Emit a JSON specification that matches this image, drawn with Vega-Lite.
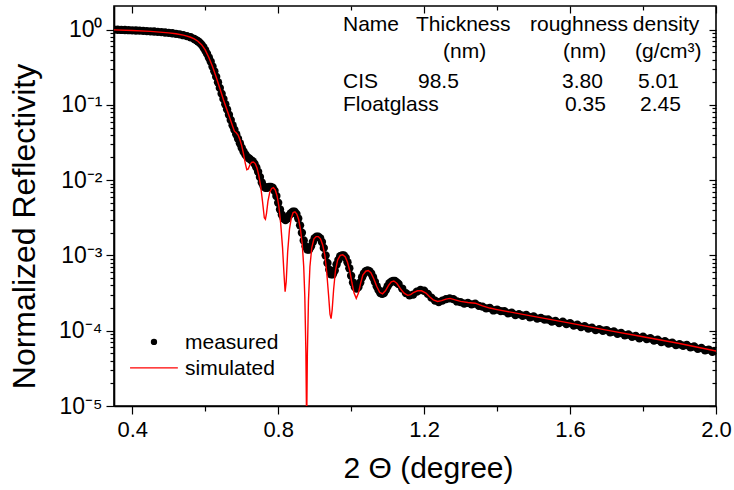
{
"$schema": "https://vega.github.io/schema/vega-lite/v6.json",
"width": 602, "height": 400,
"autosize": {"type": "none"},
"padding": {"left": 114, "top": 6, "right": 18, "bottom": 84},
"background": "white",
"config": {
 "view": {"stroke": "black", "strokeWidth": 1.6},
 "font": "Liberation Sans",
 "axis": {"grid": false, "domainColor": "black", "domainWidth": 1.6, "tickColor": "black", "tickWidth": 1.2, "labelColor": "black", "titleColor": "black", "labelFont": "Liberation Sans", "titleFont": "Liberation Sans", "titleFontWeight": "normal", "labelOverlap": false, "labelFlush": false}
},
"datasets": {
 "measured": [
  {"x":0.35,"y":1.0},{"x":0.36,"y":0.995},{"x":0.37,"y":0.99},{"x":0.38,"y":0.986},{"x":0.39,"y":0.982},{"x":0.40,"y":0.977},{"x":0.41,"y":0.973},{"x":0.42,"y":0.968},{"x":0.43,"y":0.962},{"x":0.44,"y":0.955},{"x":0.45,"y":0.948},{"x":0.46,"y":0.942},{"x":0.47,"y":0.933},{"x":0.48,"y":0.925},{"x":0.49,"y":0.916},{"x":0.50,"y":0.906},{"x":0.51,"y":0.893},{"x":0.52,"y":0.879},{"x":0.53,"y":0.863},{"x":0.54,"y":0.843},{"x":0.55,"y":0.820},{"x":0.56,"y":0.791},{"x":0.57,"y":0.750},{"x":0.575,"y":0.726},{"x":0.58,"y":0.700},{"x":0.585,"y":0.668},{"x":0.59,"y":0.631},{"x":0.595,"y":0.582},{"x":0.60,"y":0.531},{"x":0.605,"y":0.479},{"x":0.61,"y":0.427},{"x":0.615,"y":0.376},{"x":0.62,"y":0.324},{"x":0.625,"y":0.279},{"x":0.63,"y":0.237},{"x":0.635,"y":0.200},{"x":0.64,"y":0.168},{"x":0.645,"y":0.141},{"x":0.65,"y":0.120},{"x":0.655,"y":0.102},{"x":0.66,"y":0.0871},{"x":0.665,"y":0.0741},{"x":0.67,"y":0.0631},{"x":0.675,"y":0.0537},{"x":0.68,"y":0.0468},{"x":0.685,"y":0.0407},{"x":0.69,"y":0.0355},{"x":0.695,"y":0.0309},{"x":0.70,"y":0.0269},{"x":0.705,"y":0.0240},{"x":0.71,"y":0.0219},{"x":0.715,"y":0.0204},{"x":0.72,"y":0.0195},{"x":0.725,"y":0.0186},{"x":0.73,"y":0.0178},{"x":0.735,"y":0.0166},{"x":0.74,"y":0.0148},{"x":0.745,"y":0.0129},{"x":0.75,"y":0.0110},{"x":0.755,"y":0.00933},{"x":0.76,"y":0.00832},{"x":0.765,"y":0.00794},{"x":0.77,"y":0.00794},{"x":0.775,"y":0.00813},{"x":0.78,"y":0.00813},{"x":0.785,"y":0.00794},{"x":0.79,"y":0.00724},{"x":0.795,"y":0.00617},{"x":0.80,"y":0.00501},{"x":0.805,"y":0.00407},{"x":0.81,"y":0.00347},{"x":0.815,"y":0.00309},{"x":0.82,"y":0.00295},{"x":0.825,"y":0.00309},{"x":0.83,"y":0.00339},{"x":0.835,"y":0.00363},{"x":0.84,"y":0.00380},{"x":0.845,"y":0.00380},{"x":0.85,"y":0.00355},{"x":0.855,"y":0.00309},{"x":0.86,"y":0.00251},{"x":0.865,"y":0.00200},{"x":0.87,"y":0.00158},{"x":0.875,"y":0.00132},{"x":0.88,"y":0.00120},{"x":0.885,"y":0.00120},{"x":0.89,"y":0.00132},{"x":0.895,"y":0.00151},{"x":0.90,"y":0.00170},{"x":0.905,"y":0.00178},{"x":0.91,"y":0.00178},{"x":0.915,"y":0.00170},{"x":0.92,"y":0.00151},{"x":0.925,"y":0.00126},{"x":0.93,"y":0.00100},{"x":0.935,"y":7.94e-4},{"x":0.94,"y":6.46e-4},{"x":0.945,"y":5.62e-4},{"x":0.95,"y":5.62e-4},{"x":0.955,"y":6.31e-4},{"x":0.96,"y":7.59e-4},{"x":0.965,"y":8.71e-4},{"x":0.97,"y":9.77e-4},{"x":0.975,"y":1.0e-3},{"x":0.98,"y":1.0e-3},{"x":0.985,"y":9.33e-4},{"x":0.99,"y":8.13e-4},{"x":0.995,"y":6.76e-4},{"x":1.0,"y":5.37e-4},{"x":1.005,"y":4.37e-4},{"x":1.01,"y":3.80e-4},{"x":1.015,"y":3.63e-4},{"x":1.02,"y":3.80e-4},{"x":1.025,"y":4.37e-4},{"x":1.03,"y":5.13e-4},{"x":1.035,"y":5.75e-4},{"x":1.04,"y":6.17e-4},{"x":1.045,"y":6.31e-4},{"x":1.05,"y":6.17e-4},{"x":1.055,"y":5.75e-4},{"x":1.06,"y":5.13e-4},{"x":1.065,"y":4.47e-4},{"x":1.07,"y":3.89e-4},{"x":1.075,"y":3.47e-4},{"x":1.08,"y":3.16e-4},{"x":1.085,"y":3.09e-4},{"x":1.09,"y":3.16e-4},{"x":1.095,"y":3.47e-4},{"x":1.10,"y":3.89e-4},{"x":1.105,"y":4.27e-4},{"x":1.11,"y":4.47e-4},{"x":1.115,"y":4.57e-4},{"x":1.12,"y":4.57e-4},{"x":1.125,"y":4.37e-4},{"x":1.13,"y":4.17e-4},{"x":1.14,"y":3.63e-4},{"x":1.15,"y":3.16e-4},{"x":1.16,"y":2.95e-4},{"x":1.17,"y":3.02e-4},{"x":1.18,"y":3.31e-4},{"x":1.19,"y":3.47e-4},{"x":1.20,"y":3.39e-4},{"x":1.21,"y":3.09e-4},{"x":1.22,"y":2.75e-4},{"x":1.23,"y":2.51e-4},{"x":1.24,"y":2.40e-4},{"x":1.25,"y":2.51e-4},{"x":1.26,"y":2.63e-4},{"x":1.27,"y":2.69e-4},{"x":1.28,"y":2.63e-4},{"x":1.29,"y":2.45e-4},{"x":1.30,"y":2.40e-4},{"x":1.31,"y":2.29e-4},{"x":1.32,"y":2.34e-4},{"x":1.33,"y":2.24e-4},{"x":1.34,"y":2.29e-4},{"x":1.35,"y":2.14e-4},{"x":1.36,"y":2.09e-4},{"x":1.37,"y":1.98e-4},{"x":1.38,"y":2.00e-4},{"x":1.39,"y":1.86e-4},{"x":1.40,"y":1.91e-4},{"x":1.41,"y":1.82e-4},{"x":1.42,"y":1.82e-4},{"x":1.43,"y":1.70e-4},{"x":1.44,"y":1.74e-4},{"x":1.45,"y":1.62e-4},{"x":1.46,"y":1.66e-4},{"x":1.47,"y":1.58e-4},{"x":1.48,"y":1.62e-4},{"x":1.49,"y":1.51e-4},{"x":1.50,"y":1.55e-4},{"x":1.51,"y":1.45e-4},{"x":1.52,"y":1.48e-4},{"x":1.53,"y":1.41e-4},{"x":1.54,"y":1.41e-4},{"x":1.55,"y":1.32e-4},{"x":1.56,"y":1.35e-4},{"x":1.57,"y":1.26e-4},{"x":1.58,"y":1.32e-4},{"x":1.59,"y":1.23e-4},{"x":1.60,"y":1.26e-4},{"x":1.61,"y":1.17e-4},{"x":1.62,"y":1.20e-4},{"x":1.63,"y":1.12e-4},{"x":1.64,"y":1.15e-4},{"x":1.65,"y":1.07e-4},{"x":1.66,"y":1.10e-4},{"x":1.67,"y":1.02e-4},{"x":1.68,"y":1.05e-4},{"x":1.69,"y":1.00e-4},{"x":1.70,"y":1.02e-4},{"x":1.71,"y":9.55e-5},{"x":1.72,"y":9.77e-5},{"x":1.73,"y":9.12e-5},{"x":1.74,"y":9.33e-5},{"x":1.75,"y":8.71e-5},{"x":1.76,"y":8.91e-5},{"x":1.77,"y":8.32e-5},{"x":1.78,"y":8.51e-5},{"x":1.79,"y":7.94e-5},{"x":1.80,"y":8.32e-5},{"x":1.81,"y":7.76e-5},{"x":1.82,"y":7.94e-5},{"x":1.83,"y":7.41e-5},{"x":1.84,"y":7.59e-5},{"x":1.85,"y":7.08e-5},{"x":1.86,"y":7.24e-5},{"x":1.87,"y":6.76e-5},{"x":1.88,"y":6.92e-5},{"x":1.89,"y":6.46e-5},{"x":1.90,"y":6.61e-5},{"x":1.91,"y":6.31e-5},{"x":1.92,"y":6.46e-5},{"x":1.93,"y":6.03e-5},{"x":1.94,"y":6.17e-5},{"x":1.95,"y":5.75e-5},{"x":1.96,"y":5.89e-5},{"x":1.97,"y":5.50e-5},{"x":1.98,"y":5.62e-5},{"x":1.99,"y":5.25e-5},{"x":2.0,"y":5.37e-5}
 ],
 "simulated": [
  {"x":0.35,"y":0.993},{"x":0.40,"y":0.973},{"x":0.45,"y":0.946},{"x":0.50,"y":0.904},{"x":0.52,"y":0.879},{"x":0.54,"y":0.843},{"x":0.55,"y":0.820},{"x":0.56,"y":0.791},{"x":0.57,"y":0.752},{"x":0.58,"y":0.701},{"x":0.59,"y":0.631},{"x":0.60,"y":0.537},{"x":0.61,"y":0.427},{"x":0.62,"y":0.324},{"x":0.63,"y":0.234},{"x":0.64,"y":0.166},{"x":0.65,"y":0.117},{"x":0.66,"y":0.0851},{"x":0.67,"y":0.0617},{"x":0.675,"y":0.0525},{"x":0.68,"y":0.0447},{"x":0.685,"y":0.0427},{"x":0.69,"y":0.0398},{"x":0.695,"y":0.0347},{"x":0.70,"y":0.0288},{"x":0.705,"y":0.0224},{"x":0.71,"y":0.0166},{"x":0.714,"y":0.0138},{"x":0.718,"y":0.0141},{"x":0.722,"y":0.0158},{"x":0.727,"y":0.0172},{"x":0.732,"y":0.0174},{"x":0.737,"y":0.0166},{"x":0.742,"y":0.0145},{"x":0.747,"y":0.0115},{"x":0.752,"y":0.00832},{"x":0.757,"y":0.00525},{"x":0.762,"y":0.00316},{"x":0.765,"y":0.00302},{"x":0.768,"y":0.00363},{"x":0.772,"y":0.00525},{"x":0.777,"y":0.00692},{"x":0.782,"y":0.00776},{"x":0.787,"y":0.00794},{"x":0.792,"y":0.00741},{"x":0.797,"y":0.00617},{"x":0.802,"y":0.00447},{"x":0.807,"y":0.00263},{"x":0.812,"y":0.00126},{"x":0.816,"y":5.62e-4},{"x":0.819,"y":3.31e-4},{"x":0.822,"y":4.47e-4},{"x":0.826,"y":0.00112},{"x":0.831,"y":0.00224},{"x":0.836,"y":0.00316},{"x":0.841,"y":0.00372},{"x":0.846,"y":0.00380},{"x":0.851,"y":0.00355},{"x":0.856,"y":0.00302},{"x":0.861,"y":0.00224},{"x":0.866,"y":0.00141},{"x":0.870,"y":7.08e-4},{"x":0.873,"y":2.82e-4},{"x":0.876,"y":5.01e-5},{"x":0.878,"y":5.01e-6},{"x":0.880,"y":5.01e-5},{"x":0.883,"y":2.51e-4},{"x":0.887,"y":7.08e-4},{"x":0.892,"y":0.00126},{"x":0.898,"y":0.00166},{"x":0.904,"y":0.00178},{"x":0.91,"y":0.00178},{"x":0.916,"y":0.00166},{"x":0.922,"y":0.00138},{"x":0.928,"y":0.00100},{"x":0.933,"y":6.03e-4},{"x":0.938,"y":3.02e-4},{"x":0.942,"y":1.66e-4},{"x":0.945,"y":1.45e-4},{"x":0.948,"y":1.91e-4},{"x":0.952,"y":3.55e-4},{"x":0.957,"y":6.31e-4},{"x":0.963,"y":8.71e-4},{"x":0.970,"y":1.0e-3},{"x":0.977,"y":1.02e-3},{"x":0.984,"y":9.55e-4},{"x":0.990,"y":8.13e-4},{"x":0.996,"y":6.31e-4},{"x":1.002,"y":4.37e-4},{"x":1.008,"y":3.16e-4},{"x":1.014,"y":2.69e-4},{"x":1.020,"y":3.16e-4},{"x":1.026,"y":4.27e-4},{"x":1.032,"y":5.50e-4},{"x":1.040,"y":6.17e-4},{"x":1.047,"y":6.31e-4},{"x":1.054,"y":5.89e-4},{"x":1.062,"y":4.90e-4},{"x":1.070,"y":3.89e-4},{"x":1.078,"y":3.24e-4},{"x":1.086,"y":3.09e-4},{"x":1.094,"y":3.39e-4},{"x":1.102,"y":3.98e-4},{"x":1.110,"y":4.47e-4},{"x":1.117,"y":4.57e-4},{"x":1.125,"y":4.27e-4},{"x":1.135,"y":3.63e-4},{"x":1.145,"y":3.16e-4},{"x":1.155,"y":2.95e-4},{"x":1.163,"y":3.02e-4},{"x":1.172,"y":3.24e-4},{"x":1.182,"y":3.39e-4},{"x":1.193,"y":3.39e-4},{"x":1.205,"y":3.16e-4},{"x":1.215,"y":2.82e-4},{"x":1.225,"y":2.57e-4},{"x":1.237,"y":2.45e-4},{"x":1.248,"y":2.51e-4},{"x":1.260,"y":2.63e-4},{"x":1.271,"y":2.69e-4},{"x":1.285,"y":2.57e-4},{"x":1.30,"y":2.45e-4},{"x":1.32,"y":2.37e-4},{"x":1.34,"y":2.32e-4},{"x":1.36,"y":2.14e-4},{"x":1.38,"y":2.00e-4},{"x":1.40,"y":1.91e-4},{"x":1.50,"y":1.55e-4},{"x":1.60,"y":1.26e-4},{"x":1.70,"y":1.02e-4},{"x":1.80,"y":8.32e-5},{"x":1.90,"y":6.76e-5},{"x":2.0,"y":5.37e-5}
 ],
 "legendDot": [{"x":0.4596,"y":7.10e-5}],
 "legendLine": [{"x":0.394,"y":3.21e-5},{"x":0.525,"y":3.21e-5}],
 "labels": [
  {"x":0.9776,"y":0.949,"t":"Name"},{"x":1.1777,"y":0.949,"t":"Thickness"},{"x":1.4902,"y":0.949,"t":"roughness"},{"x":1.772,"y":0.949,"t":"density"},
  {"x":1.2517,"y":0.416,"t":"(nm)"},{"x":1.5806,"y":0.416,"t":"(nm)"},{"x":1.778,"y":0.416,"t":"(g/cm³)"},
  {"x":0.9776,"y":0.166,"t":"CIS"},{"x":1.1832,"y":0.166,"t":"98.5"},{"x":1.5779,"y":0.166,"t":"3.80"},{"x":1.7862,"y":0.166,"t":"5.01"},
  {"x":0.9776,"y":0.0822,"t":"Floatglass"},{"x":1.5861,"y":0.0822,"t":"0.35"},{"x":1.7917,"y":0.0822,"t":"2.45"},
  {"x":0.5446,"y":5.68e-5,"t":"measured"},{"x":0.5446,"y":2.57e-5,"t":"simulated"}
 ]
},
"layer": [
 {
  "data": {"name": "measured"},
  "mark": {"type": "circle", "color": "black", "size": 70, "opacity": 1, "clip": true},
  "encoding": {
   "x": {"field": "x", "type": "quantitative", "scale": {"domain": [0.35, 2.0], "nice": false, "zero": false},
    "axis": {"orient": "bottom", "values": [0.4,0.6,0.8,1.0,1.2,1.4,1.6,1.8,2.0], "labelExpr": "round(datum.value*10) % 4 == 0 ? format(datum.value, '.1f') : ''", "labelFontSize": 22, "labelPadding": 5,
     "tickSize": {"condition": {"test": "round(datum.value*10) % 4 == 0", "value": 8}, "value": 5},
     "title": "2 Θ (degree)", "titleFontSize": 30, "titleX": 314, "titleY": 71, "titleBaseline": "alphabetic", "titleAlign": "center"}},
   "y": {"field": "y", "type": "quantitative", "scale": {"type": "log", "domain": [1e-5, 2.058], "nice": false},
    "axis": {"orient": "left", "values": [1e-5,2e-5,3e-5,4e-5,5e-5,6e-5,7e-5,8e-5,9e-5,1e-4,2e-4,3e-4,4e-4,5e-4,6e-4,7e-4,8e-4,9e-4,1e-3,2e-3,3e-3,4e-3,5e-3,6e-3,7e-3,8e-3,9e-3,1e-2,2e-2,3e-2,4e-2,5e-2,6e-2,7e-2,8e-2,9e-2,0.1,0.2,0.3,0.4,0.5,0.6,0.7,0.8,0.9,1],
     "labelExpr": "abs(log(datum.value)/LN10 - round(log(datum.value)/LN10)) < 0.001 ? '10' + ['⁰','⁻¹','⁻²','⁻³','⁻⁴','⁻⁵'][-round(log(datum.value)/LN10)] : ''",
     "labelFontSize": 23, "labelPadding": 4,
     "tickSize": {"condition": {"test": "abs(log(datum.value)/LN10 - round(log(datum.value)/LN10)) < 0.001", "value": 8}, "value": 4},
     "title": "Normalized Reflectivity", "titleFontSize": 32, "titleX": -80, "titleY": 220, "titleBaseline": "alphabetic", "titleAlign": "center", "titleAngle": 270}}
  }
 },
 {
  "data": {"name": "simulated"},
  "mark": {"type": "line", "color": "#ff0000", "strokeWidth": 1.4, "clip": true},
  "encoding": {
   "x": {"field": "x", "type": "quantitative", "axis": {"orient": "top", "values": [0.4,0.6,0.8,1.0,1.2,1.4,1.6,1.8,2.0], "labels": false, "domain": false, "title": null, "tickSize": {"condition": {"test": "round(datum.value*10) % 4 == 0", "value": -7}, "value": -4}}},
   "y": {"field": "y", "type": "quantitative", "axis": {"orient": "right", "values": [1e-5,2e-5,3e-5,4e-5,5e-5,6e-5,7e-5,8e-5,9e-5,1e-4,2e-4,3e-4,4e-4,5e-4,6e-4,7e-4,8e-4,9e-4,1e-3,2e-3,3e-3,4e-3,5e-3,6e-3,7e-3,8e-3,9e-3,1e-2,2e-2,3e-2,4e-2,5e-2,6e-2,7e-2,8e-2,9e-2,0.1,0.2,0.3,0.4,0.5,0.6,0.7,0.8,0.9,1], "labels": false, "domain": false, "title": null, "tickSize": {"condition": {"test": "abs(log(datum.value)/LN10 - round(log(datum.value)/LN10)) < 0.001", "value": -7}, "value": -4}}}
  }
 },
 {
  "data": {"name": "legendDot"},
  "mark": {"type": "circle", "color": "black", "size": 40, "opacity": 1},
  "encoding": {"x": {"field": "x", "type": "quantitative", "axis": null}, "y": {"field": "y", "type": "quantitative", "axis": null}}
 },
 {
  "data": {"name": "legendLine"},
  "mark": {"type": "line", "color": "#ff0000", "strokeWidth": 1.4},
  "encoding": {"x": {"field": "x", "type": "quantitative", "axis": null}, "y": {"field": "y", "type": "quantitative", "axis": null}}
 },
 {
  "data": {"name": "labels"},
  "mark": {"type": "text", "align": "left", "baseline": "alphabetic", "fontSize": 21, "font": "Liberation Sans", "color": "black"},
  "encoding": {"x": {"field": "x", "type": "quantitative", "axis": null}, "y": {"field": "y", "type": "quantitative", "axis": null}, "text": {"field": "t"}}
 }
],
"resolve": {"axis": {"x": "independent", "y": "independent"}}
}
